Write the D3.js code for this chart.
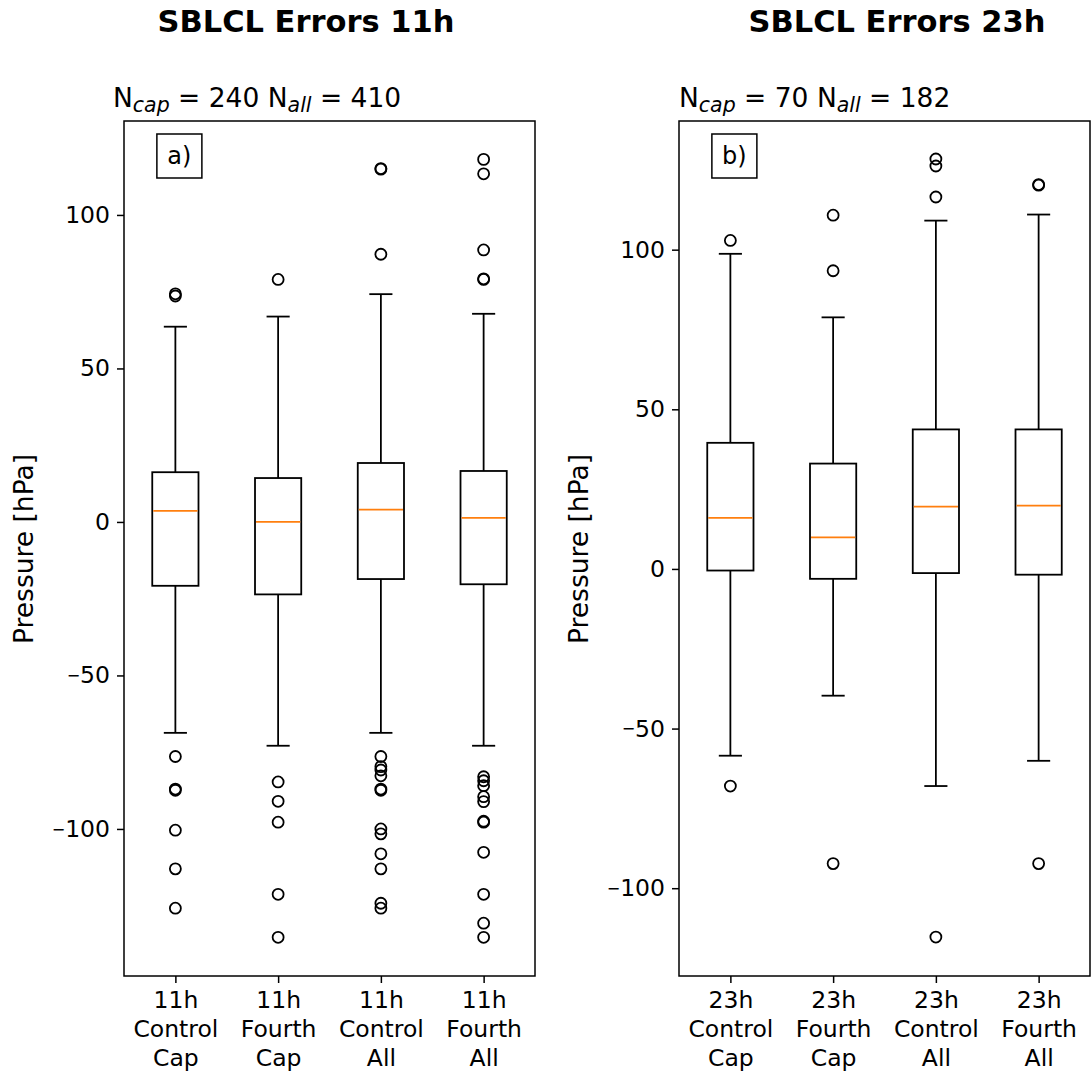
<!DOCTYPE html>
<html>
<head>
<meta charset="utf-8">
<script src="https://cdn.jsdelivr.net/npm/d3@7/dist/d3.min.js"></script>
<style>
  body { margin: 0; background: #fff; }
  text { font-family: "DejaVu Sans", sans-serif; fill: #000; }
</style>
</head>
<body>
<div id="viz_container"></div>
<script>
// ---- data ----
const labels11 = [["11h", "Control", "Cap"], ["11h", "Fourth", "Cap"], ["11h", "Control", "All"], ["11h", "Fourth", "All"]];
const labels23 = [["23h", "Control", "Cap"], ["23h", "Fourth", "Cap"], ["23h", "Control", "All"], ["23h", "Fourth", "All"]];

// 11h
const whiskLo11 = [-68.7, -72.9, -68.7, -72.9];
const q1_11     = [-20.8, -23.6, -18.6, -20.3];
const median11  = [3.6, 0.0, 4.0, 1.3];
const q3_11     = [16.2, 14.3, 19.2, 16.6];
const whiskHi11 = [63.6, 66.9, 74.2, 67.8];
const fliers11 = [
  [74.3, 73.6, -76.4, -87.0, -87.4, -100.4, -113.0, -125.8],
  [79.0, -84.7, -91.0, -97.8, -121.3, -135.3],
  [114.9, 115.1, 87.2, -76.4, -79.7, -80.8, -82.7, -87.0, -87.4, -100.0, -101.6, -108.1, -113.0, -124.2, -125.8],
  [118.1, 113.4, 88.6, 79.0, 79.2, -83.0, -84.3, -85.9, -89.5, -91.1, -97.5, -97.8, -107.6, -121.3, -130.7, -135.3]
];

// 23h
const whiskLo23 = [-58.5, -39.7, -68.0, -60.1];
const q1_23     = [-0.5, -3.1, -1.3, -1.8];
const median23  = [16.0, 9.9, 19.5, 19.8];
const q3_23     = [39.5, 33.0, 43.7, 43.7];
const whiskHi23 = [98.7, 78.8, 109.1, 111.0];
const fliers23 = [
  [102.9, -68.0],
  [110.8, 93.4, -92.3],
  [128.4, 126.2, 116.5, -115.3],
  [120.2, 120.4, -92.3]
];

const yTicks = [-100, -50, 0, 50, 100];

const svg = d3.select("#viz_container")
  .append("svg")
    .attr("width", 1092)
    .attr("height", 1076);

const panels = [
  {title: "SBLCL Errors 11h", titleX: 306, nCap: "240", nAll: "410", tag: "a)", nX: 113,
   x0: 124, x1: 535, domain: [-147.9, 130.6], labels: labels11,
   lo: whiskLo11, q1: q1_11, med: median11, q3: q3_11, hi: whiskHi11, fliers: fliers11},
  {title: "SBLCL Errors 23h", titleX: 897, nCap: "70", nAll: "182", tag: "b)", nX: 679,
   x0: 679, x1: 1090, domain: [-127.5, 140.3], labels: labels23,
   lo: whiskLo23, q1: q1_23, med: median23, q3: q3_23, hi: whiskHi23, fliers: fliers23}
];

const plotTop = 121, plotBottom = 976;
const lw = 1.8;

panels.forEach(p => {
  const xScale = d3.scaleLinear().domain([0.5, 4.5]).range([p.x0, p.x1]);
  const yScale = d3.scaleLinear().domain(p.domain).range([plotBottom, plotTop]);
  const boxW = xScale(1.45) - xScale(1);   // full box width = 0.45
  const capW = boxW / 2;

  const g = svg.append("g");

  // y axis (minus sign drawn a bit narrower, like the original)
  g.append("g")
    .attr("transform", `translate(${p.x0},0)`)
    .call(d3.axisLeft(yScale).tickValues(yTicks).tickSize(7).tickPadding(7).tickFormat(""))
    .call(a => a.select(".domain").remove())
    .call(a => a.selectAll("line").attr("stroke", "#000").attr("stroke-width", 1.5))
    .call(a => a.selectAll(".tick text").each(function(d) {
      const t = d3.select(this).attr("dy", null)
        .style("font-size", "23.5px").style("font-family", "DejaVu Sans");
      if (d < 0) {
        t.append("tspan").attr("dy", 5.3).style("font-size", "16px").text("\u2212");
        t.append("tspan").attr("dy", 2.2).text(Math.abs(d));
      } else {
        t.append("tspan").attr("dy", 7.5).text(d);
      }
    }));

  // x axis with three-line labels
  const xa = g.append("g")
    .attr("transform", `translate(0,${plotBottom})`)
    .call(d3.axisBottom(xScale).tickValues([1, 2, 3, 4]).tickSize(7).tickFormat(""))
    .call(a => a.select(".domain").remove())
    .call(a => a.selectAll("line").attr("stroke", "#000").attr("stroke-width", 1.5));
  xa.selectAll(".tick").each(function(d) {
    const t = d3.select(this).append("text")
      .attr("text-anchor", "middle")
      .style("font-size", "23.5px");
    p.labels[d - 1].forEach((s, i) => {
      t.append("tspan").attr("x", 0).attr("y", 32 + i * 29).text(s);
    });
  });

  // boxes
  const idx = [0, 1, 2, 3];
  const boxes = g.append("g").selectAll("g").data(idx).join("g");
  boxes.append("line")
    .attr("x1", i => xScale(i + 1)).attr("x2", i => xScale(i + 1))
    .attr("y1", i => yScale(p.lo[i])).attr("y2", i => yScale(p.q1[i]))
    .attr("stroke", "#000").attr("stroke-width", lw);
  boxes.append("line")
    .attr("x1", i => xScale(i + 1)).attr("x2", i => xScale(i + 1))
    .attr("y1", i => yScale(p.q3[i])).attr("y2", i => yScale(p.hi[i]))
    .attr("stroke", "#000").attr("stroke-width", lw);
  boxes.append("line")
    .attr("x1", i => xScale(i + 1) - capW / 2).attr("x2", i => xScale(i + 1) + capW / 2)
    .attr("y1", i => yScale(p.lo[i])).attr("y2", i => yScale(p.lo[i]))
    .attr("stroke", "#000").attr("stroke-width", lw);
  boxes.append("line")
    .attr("x1", i => xScale(i + 1) - capW / 2).attr("x2", i => xScale(i + 1) + capW / 2)
    .attr("y1", i => yScale(p.hi[i])).attr("y2", i => yScale(p.hi[i]))
    .attr("stroke", "#000").attr("stroke-width", lw);
  boxes.append("rect")
    .attr("x", i => xScale(i + 1) - boxW / 2)
    .attr("width", boxW)
    .attr("y", i => yScale(p.q3[i]))
    .attr("height", i => yScale(p.q1[i]) - yScale(p.q3[i]))
    .attr("fill", "none").attr("stroke", "#000").attr("stroke-width", lw);
  boxes.append("line")
    .attr("x1", i => xScale(i + 1) - boxW / 2 + 1).attr("x2", i => xScale(i + 1) + boxW / 2 - 1)
    .attr("y1", i => yScale(p.med[i])).attr("y2", i => yScale(p.med[i]))
    .attr("stroke", "#ff7f0e").attr("stroke-width", lw);

  // outliers
  const pts = [];
  p.fliers.forEach((arr, i) => arr.forEach(v => pts.push({i, v})));
  g.append("g").selectAll("circle").data(pts).join("circle")
    .attr("cx", d => xScale(d.i + 1))
    .attr("cy", d => yScale(d.v))
    .attr("r", 5.5)
    .attr("fill", "none").attr("stroke", "#000").attr("stroke-width", lw);

  // frame
  g.append("rect")
    .attr("x", p.x0).attr("y", plotTop)
    .attr("width", p.x1 - p.x0).attr("height", plotBottom - plotTop)
    .attr("fill", "none").attr("stroke", "#000").attr("stroke-width", 1.5);

  // panel tag
  g.append("rect")
    .attr("x", xScale(0.82)).attr("y", 134)
    .attr("width", 45).attr("height", 44)
    .attr("fill", "#fff").attr("stroke", "#000").attr("stroke-width", 1.5);
  g.append("text")
    .attr("x", xScale(0.82) + 22.5).attr("y", 164)
    .attr("text-anchor", "middle")
    .style("font-size", "24px")
    .text(p.tag);

  // N counts
  const nt = g.append("text")
    .attr("x", p.nX).attr("y", 107)
    .style("font-size", "26.5px");
  nt.append("tspan").text("N");
  nt.append("tspan").attr("dy", 5).style("font-size", "20.5px").style("font-style", "italic").text("cap");
  nt.append("tspan").attr("dy", -5).text(" = " + p.nCap + " N");
  nt.append("tspan").attr("dy", 5).style("font-size", "20.5px").style("font-style", "italic").text("all");
  nt.append("tspan").attr("dy", -5).text(" = " + p.nAll);

  // y label
  g.append("text")
    .attr("transform", `translate(${p.x0 - 91},549) rotate(-90)`)
    .attr("text-anchor", "middle")
    .style("font-size", "26.5px")
    .text("Pressure [hPa]");

  // title
  g.append("text")
    .attr("x", p.titleX).attr("y", 32)
    .attr("text-anchor", "middle")
    .style("font-size", "30.5px").style("font-weight", "bold")
    .text(p.title);
});
</script>
</body>
</html>
